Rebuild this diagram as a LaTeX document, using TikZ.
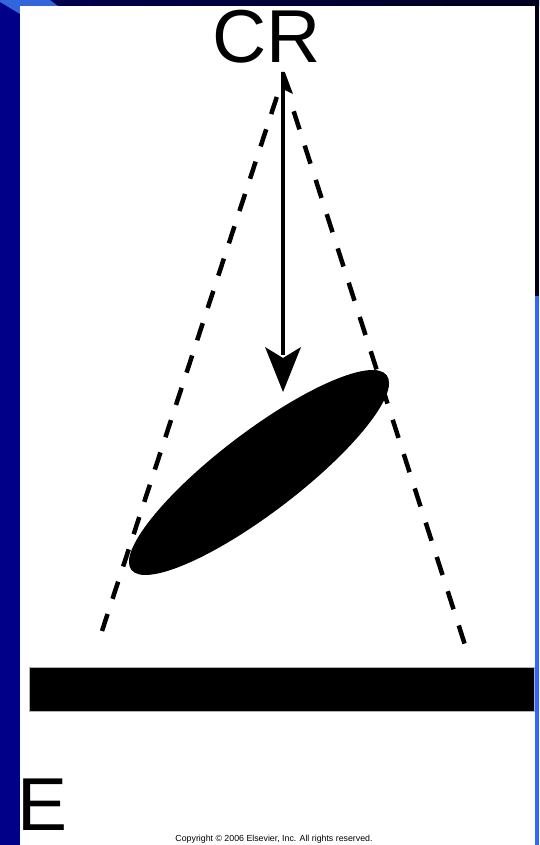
\documentclass[tikz,border=0pt]{standalone}
\usepackage{fontspec}
\setmainfont{Liberation Sans}
\usetikzlibrary{calc}
\definecolor{navy}{RGB}{0,0,136}
\definecolor{topdark}{RGB}{0,0,30}
\definecolor{brightblue}{RGB}{51,102,255}
\definecolor{lightwedge}{RGB}{51,102,221}
\tikzset{
  dashline/.style={line width=4.5pt},
  bigtext/.style={inner sep=0pt, font=\fontsize{75}{75}\selectfont},
  smalltext/.style={inner sep=0pt, font=\fontsize{8.8}{9}\selectfont},
}
\begin{document}
\begin{tikzpicture}[x=1pt,y=1pt]
\useasboundingbox (0,0) rectangle (539,845);
% background frame
\fill[navy] (0,0) rectangle (539,845);
\shade[left color=navy!60!black, right color=topdark] (20,839) rectangle (539,845);
\fill[lightwedge] (0,845) -- (50,845) -- (58,839) -- (20,839) -- (20,831) -- (0,843) -- cycle;
\fill[white] (20,0) rectangle (535,839);
\fill[topdark] (535,549) rectangle (539,839);
\fill[brightblue] (535,0) rectangle (539,549);
% bar
\fill[black, draw=gray!60, line width=0.6pt] (29,134) rectangle (534,178);
% dashed cone
\coordinate (apex) at (283,767);
\coordinate (L) at (102,214);
\coordinate (R) at (465,200);
\draw[dashline, dash pattern=on 18pt off 16pt] ($(apex)!20pt!(L)$) -- (L);
\draw[dashline, dash pattern=on 19pt off 17pt] ($(apex)!35pt!(R)$) -- (R);
% ellipse
\fill[black, rotate around={37.3:(259,372.5)}] (259,372.5) ellipse [x radius=160.5, y radius=40.5];
% arrow
\coordinate (top) at (283,773);
\coordinate (tip) at (283,453);
\draw[line width=3.5pt] (283,770) -- (283,490);
\fill (tip) -- (265,498) -- (283,487) -- (301,498) -- cycle;
\fill (281.2,773) -- (284.8,773) -- (293,751) -- (284.8,755) -- (281.2,755) -- cycle;
% texts
\node[bigtext, anchor=base west] (e) at (17,14) {E};
\node[bigtext, anchor=base] (cr) at (267,782) {CR};
\node[smalltext, anchor=base] (copy) at (274,3) {Copyright © 2006 Elsevier, Inc. All rights reserved.};
\end{tikzpicture}
\end{document}
